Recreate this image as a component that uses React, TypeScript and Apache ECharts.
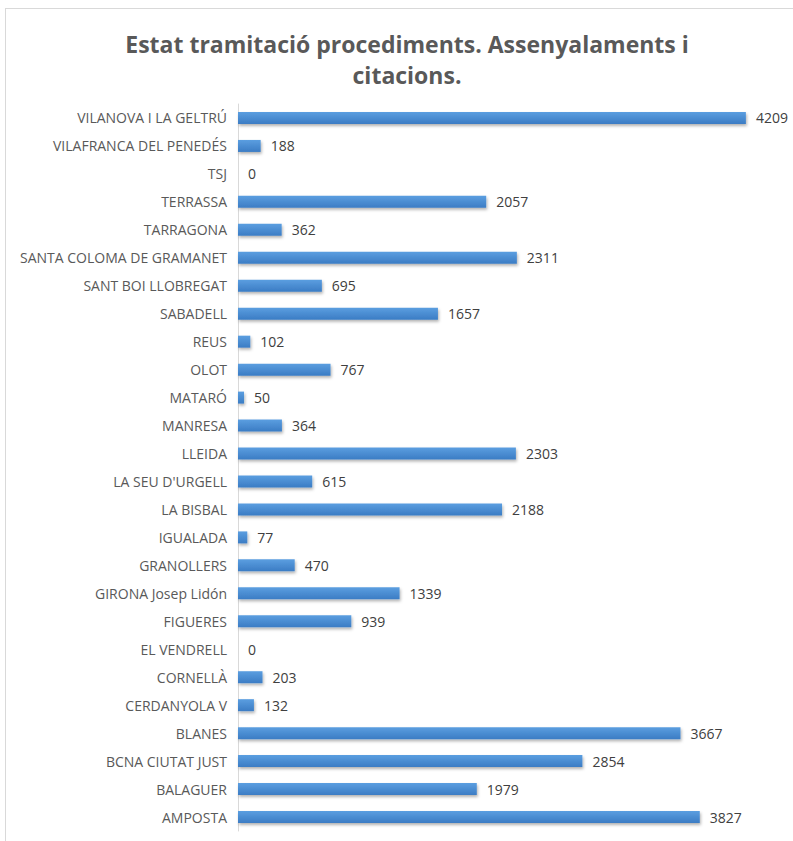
import React, { useEffect, useRef } from "react";
import * as echarts from "echarts";

const categories = [
  "AMPOSTA", "BALAGUER", "BCNA CIUTAT JUST", "BLANES", "CERDANYOLA V", "CORNELLÀ",
  "EL VENDRELL", "FIGUERES", "GIRONA Josep Lidón", "GRANOLLERS", "IGUALADA", "LA BISBAL",
  "LA SEU D'URGELL", "LLEIDA", "MANRESA", "MATARÓ", "OLOT", "REUS", "SABADELL",
  "SANT BOI LLOBREGAT", "SANTA COLOMA DE GRAMANET", "TARRAGONA", "TERRASSA", "TSJ",
  "VILAFRANCA DEL PENEDÉS", "VILANOVA I LA GELTRÚ",
];
const values = [
  3827, 1979, 2854, 3667, 132, 203,
  0, 939, 1339, 470, 77, 2188,
  615, 2303, 364, 50, 767, 102, 1657,
  695, 2311, 362, 2057, 0,
  188, 4209,
];
const titleText = "Estat tramitació procediments. Assenyalaments i\ncitacions.";

export default function App() {
  const ref = useRef<HTMLDivElement>(null);
  useEffect(() => {
    if (!ref.current) return;
    const chart = echarts.init(ref.current, undefined, { renderer: "svg" });
    chart.setOption({
      animation: false,
      backgroundColor: "#ffffff",
      title: {
        text: titleText,
        left: 402,
        textAlign: "center",
        top: 23,
        textStyle: {
          fontFamily: "Open Sans",
          fontWeight: "bold",
          fontSize: 23,
          color: "#595959",
          lineHeight: 31,
        },
      },
      graphic: [
        { type: "line", shape: { x1: 5, y1: 8.5, x2: 793, y2: 8.5 }, style: { stroke: "#d9d9d9", lineWidth: 1 } },
        { type: "line", shape: { x1: 5.5, y1: 8, x2: 5.5, y2: 841 }, style: { stroke: "#d9d9d9", lineWidth: 1 } },
      ],
      grid: { left: 238, top: 104, width: 543, height: 727, containLabel: false },
      xAxis: {
        type: "value",
        min: 0,
        max: 4500,
        show: false,
        splitLine: { show: false },
      },
      yAxis: {
        type: "category",
        data: categories,
        axisLine: { show: true, lineStyle: { color: "#d9d9d9", width: 1 } },
        axisTick: { show: false },
        axisLabel: {
          fontFamily: "Open Sans",
          fontSize: 14,
          color: "#595959",
          margin: 11,
        },
      },
      series: [
        {
          type: "bar",
          data: values,
          barWidth: 12,
          itemStyle: {
            color: new echarts.graphic.LinearGradient(0, 0, 0, 1, [
              { offset: 0, color: "#5b9ee0" },
              { offset: 1, color: "#3b7cc4" },
            ]),
            shadowColor: "rgba(0,0,0,0.3)",
            shadowBlur: 3,
            shadowOffsetX: 1,
            shadowOffsetY: 2,
          },
          label: {
            show: true,
            position: "right",
            distance: 10,
            fontFamily: "Open Sans",
            fontSize: 14,
            color: "#404040",
          },
        },
      ],
    });
    return () => chart.dispose();
  }, []);
  return <div ref={ref} style={{ position: "absolute", left: 0, top: 0, width: 793, height: 841 }} />;
}
